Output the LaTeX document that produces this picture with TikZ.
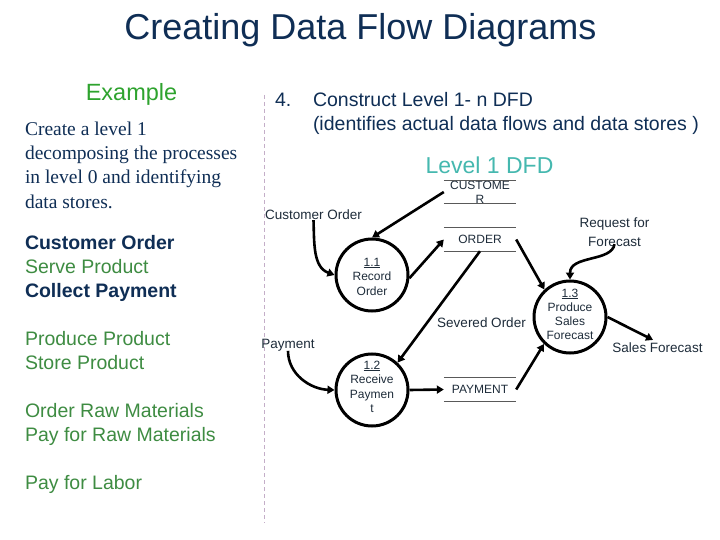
\documentclass[tikz,border=0pt]{standalone}
\usepackage{fontspec}
\setmainfont{Liberation Sans}
\newfontfamily\serifface{Liberation Serif}
\usetikzlibrary{arrows.meta}
\definecolor{navy}{HTML}{0F2E55}
\definecolor{exgreen}{HTML}{2EA32E}
\definecolor{listgreen}{HTML}{3E8C42}
\definecolor{teal1}{HTML}{45B8AF}
\definecolor{dtext}{HTML}{1E2C3A}
\definecolor{divcol}{HTML}{C4AEC8}
\begin{document}
\begin{tikzpicture}[x=1pt,y=-1pt,
  txt/.style={inner sep=0pt, outer sep=0pt},
  sertxt/.style={txt, anchor=base west, text=navy, font=\serifface\fontsize{19.5}{24}\selectfont},
  boldlist/.style={txt, anchor=base west, text=navy, font=\bfseries\fontsize{19.5}{24}\selectfont},
  greenlist/.style={txt, anchor=base west, text=listgreen, font=\fontsize{19.5}{24}\selectfont},
  headtxt/.style={txt, anchor=base west, text=navy, font=\fontsize{19.5}{24}\selectfont},
  flowlbl/.style={txt, anchor=base, text=dtext, font=\fontsize{13.5}{15}\selectfont},
  proctxt/.style={txt, anchor=base, text=dtext, font=\fontsize{12}{14}\selectfont},
  proc/.style={circle, draw=black, line width=3pt, minimum size=72pt, inner sep=0pt},
  store/.style={minimum width=72pt, minimum height=23pt, inner sep=0pt, align=center, text=dtext, font=\fontsize{12}{14}\selectfont},
  storeline/.style={draw=black!65, line width=1pt},
  flow/.style={draw=black, line width=2.6pt, -{Triangle[length=7pt,width=8pt]}},
  divider/.style={draw=divcol, line width=1pt, dash pattern=on 4pt off 3pt}
]
\useasboundingbox (0,0) rectangle (720,540);
\fill[white] (0,0) rectangle (720,540);

% title
\node[txt, anchor=base, text=navy, font=\fontsize{36}{40}\selectfont] (title) at (360.5,40) {Creating Data Flow Diagrams};

% left column
\node[txt, anchor=base, text=exgreen, font=\fontsize{23.5}{26}\selectfont] (example) at (131.5,101) {Example};
\node[sertxt] (c1) at (25,136) {Create a level 1};
\node[sertxt] (c2) at (25,160) {decomposing the processes};
\node[sertxt] (c3) at (25,184) {in level 0 and identifying};
\node[sertxt] (c4) at (25,208) {data stores.};

\node[boldlist] (l1) at (25,249) {Customer Order};
\node[greenlist] (l2) at (25,273) {Serve Product};
\node[boldlist] (l3) at (25,297) {Collect Payment};
\node[greenlist] (l4) at (25,345) {Produce Product};
\node[greenlist] (l5) at (25,369) {Store Product};
\node[greenlist] (l6) at (25,417) {Order Raw Materials};
\node[greenlist] (l7) at (25,441) {Pay for Raw Materials};
\node[greenlist] (l8) at (25,489) {Pay for Labor};

% divider
\coordinate (dtop) at (264,95);
\coordinate (dbot) at (264,523);
\draw[divider] (dtop) -- (dbot);

% heading right
\node[headtxt] (h0) at (275,107) {4.};
\node[headtxt] (h1) at (313,107) {Construct Level 1- n DFD};
\node[headtxt] (h2) at (313,131) {(identifies actual data flows and data stores )};
\node[txt, anchor=base, text=teal1, font=\fontsize{23}{26}\selectfont] (lvl) at (489.5,174) {Level 1 DFD};

% data stores
\node[store] (cust) at (480,192) {CUSTOME\\R};
\node[store] (order) at (480,239.5) {ORDER};
\node[store] (paym) at (480,389.5) {PAYMENT};
\foreach \s in {cust,order,paym}{
  \draw[storeline] (\s.north west) -- (\s.north east);
  \draw[storeline] (\s.south west) -- (\s.south east);
}

% processes
\node[proc] (p11) at (372,275) {};
\node[proctxt] (p11a) at (372,266) {\underline{1.1}};
\node[proctxt] (p11b) at (372,280) {Record};
\node[proctxt] (p11c) at (372,295) {Order};

\node[proc] (p12) at (372,390) {};
\node[proctxt] (p12a) at (372,369) {\underline{1.2}};
\node[proctxt] (p12b) at (372,383) {Receive};
\node[proctxt] (p12c) at (372,398) {Paymen};
\node[proctxt] (p12d) at (372,412) {t};

\node[proc] (p13) at (570,317) {};
\node[proctxt] (p13a) at (570,297) {\underline{1.3}};
\node[proctxt] (p13b) at (570,311) {Produce};
\node[proctxt] (p13c) at (570,325) {Sales};
\node[proctxt] (p13d) at (570,339) {Forecast};

% flow labels
\node[flowlbl] (co) at (313.5,220) {Customer Order};
\node[flowlbl] (pay) at (288,348) {Payment};
\node[flowlbl] (sev) at (481.5,327) {Severed Order};
\node[flowlbl] (req1) at (614.5,228) {Request for};
\node[flowlbl] (req2) at (614.5,246) {Forecast};
\node[flowlbl] (sf) at (657.5,352) {Sales Forecast};

% flows
\draw[flow] (cust.west) -- (p11.north);
\draw[flow] (co.south) to[out=-88,in=160] (p11.west);
\draw[flow] (p11.-5) -- (order.west);
\draw[flow] (order.south) -- (p12.47);
\draw[flow] (order.east) -- (p13.133);
\draw[flow] (pay.south) to[out=-90,in=178] (p12.west);
\draw[flow] (p12.east) -- (paym.west);
\draw[flow] (paym.east) -- (p13.226);
\draw[flow] ([yshift=2pt]req2.south) .. controls (612,262) and (570,255) .. (p13.north);
\draw[flow, shorten >=5pt] (p13.east) -- (sf.north);
\end{tikzpicture}
\end{document}
